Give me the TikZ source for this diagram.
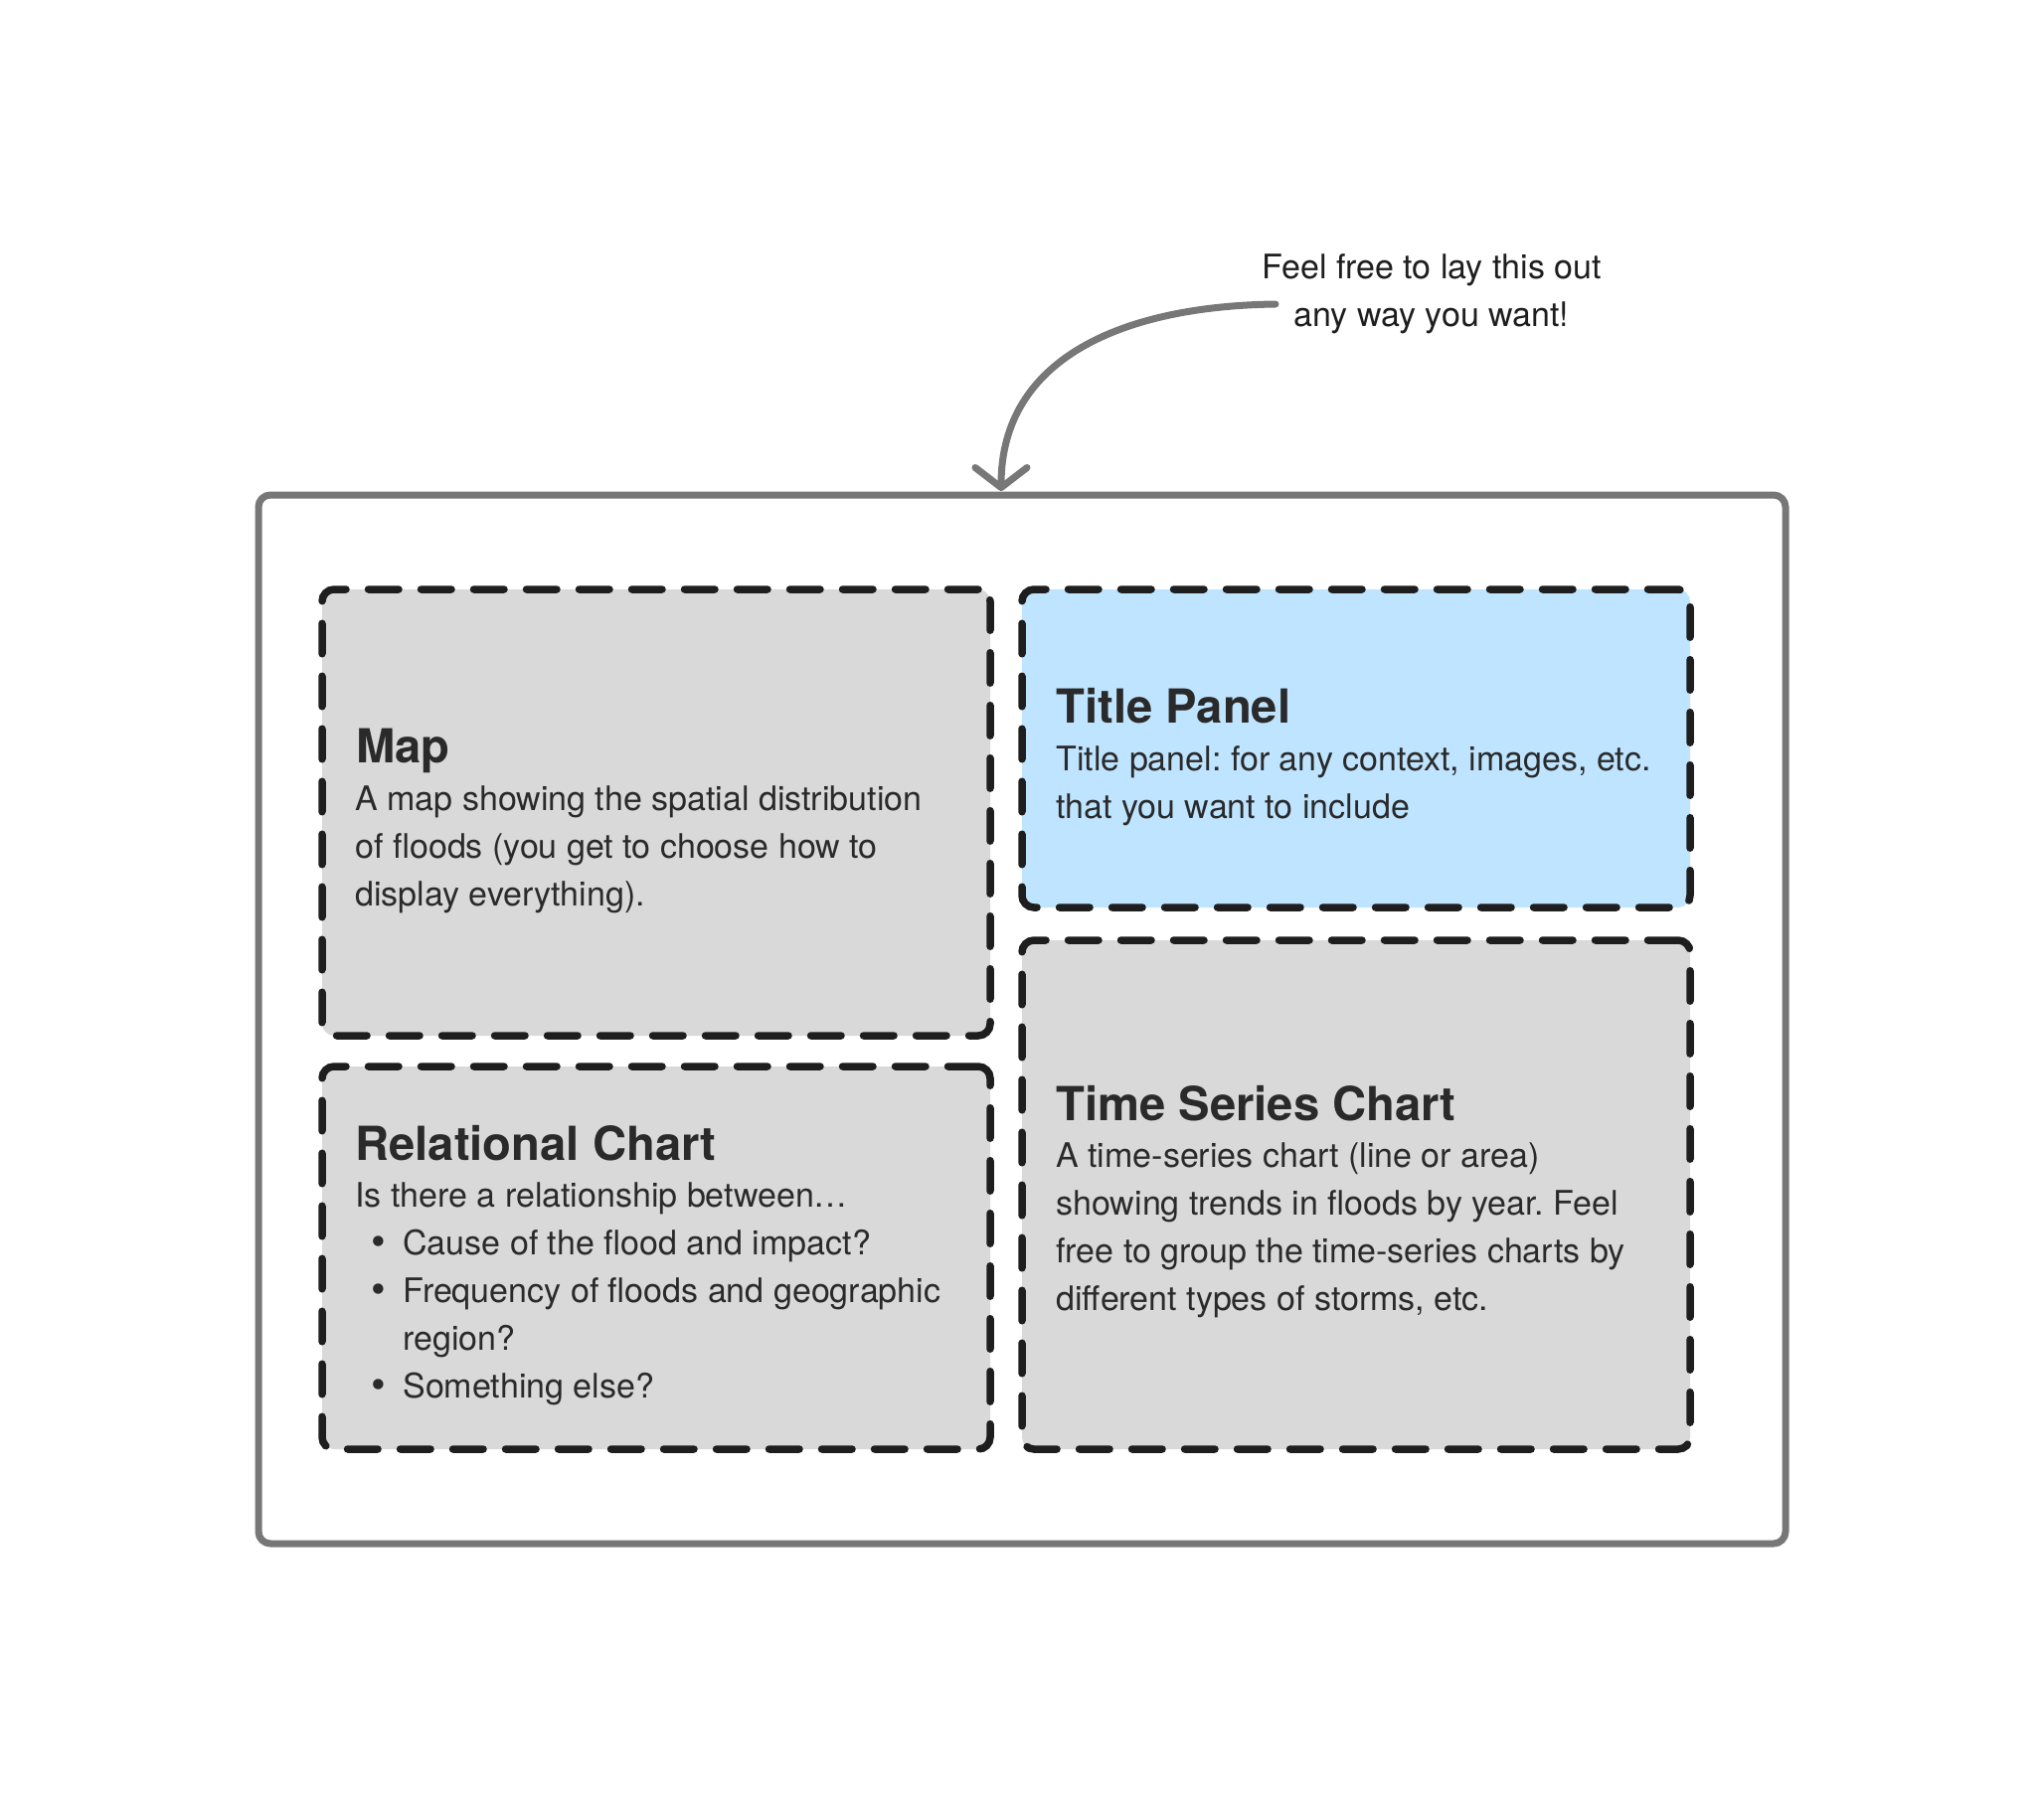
\documentclass[tikz,border=0pt]{standalone}
\usepackage{fontspec}
\setmainfont{TeX Gyre Heros}
\usetikzlibrary{arrows.meta}
\definecolor{outergray}{HTML}{777777}
\definecolor{dashblack}{HTML}{1E1E1E}
\definecolor{panelgray}{HTML}{D9D9D9}
\definecolor{panelblue}{HTML}{BFE4FF}
\definecolor{textdark}{HTML}{2A2A2A}
\newcommand{\bodyfnt}{\fontsize{17}{24}\selectfont}
\newcommand{\titlefnt}{\fontsize{23.6}{28}\selectfont\bfseries}
\tikzset{
  panelbox/.style={draw=dashblack, line width=3.75pt, dash pattern=on 15.25pt off 11.25pt,
    line cap=round, rounded corners=6pt, fill=panelgray, anchor=north west,
    inner sep=0pt, outer sep=0pt},
  outerbox/.style={draw=outergray, line width=3.5pt, rounded corners=6pt, anchor=north west,
    inner sep=0pt, outer sep=0pt, minimum width=768pt, minimum height=527.5pt},
  ttl/.style={anchor=base west, inner sep=0pt, font=\titlefnt, text=textdark},
  bodyline/.style={anchor=base west, inner sep=0pt, font=\bodyfnt, text=textdark},
  bul/.style={anchor=center, inner sep=0pt, font=\fontsize{21}{24}\selectfont, text=textdark},
  note/.style={anchor=base, inner sep=0pt, font=\bodyfnt, text=dashblack},
  curvearrow/.style={draw=outergray, line width=3.5pt, line cap=round,
    -{Straight Barb[length=10pt,width=26pt,round]}},
}
\begin{document}
\frenchspacing
\begin{tikzpicture}[x=0.5pt,y=-0.5pt]
\useasboundingbox[fill=white] (0,0) rectangle (2056,1814);

% outer frame
\node[outerbox] (frame) at (260,498) {};

% panels
\node[panelbox, minimum width=336pt, minimum height=224.5pt] (map) at (324,593) {};
\node[panelbox, fill=panelblue, minimum width=336pt, minimum height=160pt] (title) at (1028,593) {};
\node[panelbox, minimum width=336pt, minimum height=192.5pt] (rel) at (324,1073) {};
\node[panelbox, minimum width=336pt, minimum height=256pt] (ts) at (1028,946) {};

% Map text
\node[ttl] (mapT) at (358,767) {Map};
\node[bodyline] (map1) at (357,815) {A map showing the spatial distribution};
\node[bodyline] (map2) at (357,863) {of floods (you get to choose how to};
\node[bodyline] (map3) at (357,911) {display everything).};

% Title panel text
\node[ttl] (titleT) at (1062,727) {Title Panel};
\node[bodyline] (title1) at (1062,775) {Title panel: for any context, images, etc.};
\node[bodyline] (title2) at (1062,823) {that you want to include};

% Relational chart text
\node[ttl] (relT) at (357,1167) {Relational Chart};
\node[bodyline] (rel0) at (357,1214) {Is there a relationship between…};
\node[bul] (b1) at (381,1254) {\textbullet};
\node[bodyline] (rel1) at (405,1262) {Cause of the flood and impact?};
\node[bul] (b2) at (381,1302) {\textbullet};
\node[bodyline] (rel2) at (405,1310) {Frequency of floods and geographic};
\node[bodyline] (rel3) at (405,1358) {region?};
\node[bul] (b3) at (381,1398) {\textbullet};
\node[bodyline] (rel4) at (405,1406) {Something else?};

% Time series text
\node[ttl] (tsT) at (1062,1127) {Time Series Chart};
\node[bodyline] (ts1) at (1062,1174) {A time-series chart (line or area)};
\node[bodyline] (ts2) at (1062,1222) {showing trends in floods by year. Feel};
\node[bodyline] (ts3) at (1062,1270) {free to group the time-series charts by};
\node[bodyline] (ts4) at (1062,1318) {different types of storms, etc.};

% annotation
\node[note] (note1) at (1440,280) {Feel free to lay this out};
\node[note] (note2) at (1440,328) {any way you want!};
\coordinate (arrstart) at (1283,306);
\coordinate (arrtip) at (1007,494);
\draw[curvearrow] (arrstart) .. controls (1130,308) and (1007,360) .. (arrtip);
\end{tikzpicture}
\end{document}
